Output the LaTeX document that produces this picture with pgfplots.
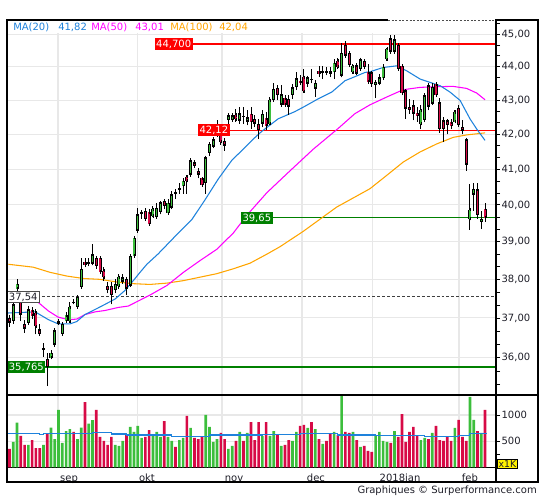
\documentclass[border=0pt]{standalone}
\usepackage{pgfplots}
\pgfplotsset{compat=1.18}
\usepackage{pgfplotstable}
\usepackage{fontspec}
\setmainfont{DejaVu Sans}
\definecolor{cgreen}{RGB}{60,190,60}
\definecolor{cred}{RGB}{215,10,70}
\definecolor{ma20}{RGB}{30,130,220}
\definecolor{ma50}{RGB}{255,0,255}
\definecolor{ma100}{RGB}{255,165,0}
\definecolor{lvlgreen}{RGB}{0,128,0}
\definecolor{gridgray}{RGB}{232,232,232}
\definecolor{txt}{RGB}{30,30,40}

\pgfplotstableread{
i o h l c v
0 37.00 37.08 36.78 36.88 350
1 36.92 37.42 36.85 37.35 484
2 37.75 38.00 37.56 37.88 854
3 37.44 37.54 36.92 37.09 599
4 36.85 36.96 36.63 36.73 427
5 36.87 37.30 36.83 37.22 427
6 37.19 37.28 36.97 37.05 522
7 37.13 37.22 36.58 36.79 369
8 36.71 36.84 36.55 36.58 369
9 36.19 36.36 36.03 36.24 427
10 35.98 36.11 35.30 35.77 650
11 36.00 36.18 35.98 36.13 758
12 36.32 36.75 36.28 36.68 541
13 36.86 36.98 36.84 36.92 1096
14 36.59 36.88 36.57 36.85 465
15 36.92 37.16 36.90 37.07 694
16 36.92 37.40 36.88 37.28 732
17 37.42 37.48 37.35 37.40 675
18 37.28 37.58 37.27 37.55 541
19 37.80 38.58 37.76 38.28 758
20 38.45 38.58 38.32 38.39 1248
21 38.40 38.58 38.34 38.47 834
22 38.41 38.95 38.37 38.67 904
23 38.58 38.63 38.28 38.34 1096
24 38.58 38.63 38.15 38.20 580
25 38.23 38.32 37.97 38.06 503
26 37.84 37.93 37.63 37.71 427
27 37.84 37.93 37.35 37.58 580
28 37.71 38.02 37.63 37.88 427
29 37.84 38.15 37.75 38.06 408
30 37.93 38.15 37.88 38.06 503
31 38.02 38.06 37.58 37.75 618
32 37.84 38.67 37.80 38.63 771
33 38.63 39.15 38.58 39.11 675
34 39.30 39.93 39.25 39.75 790
35 39.78 39.87 39.62 39.80 561
36 39.84 39.93 39.57 39.61 580
37 39.80 39.88 39.43 39.48 713
38 39.70 39.97 39.66 39.88 618
39 39.66 40.06 39.62 39.93 675
40 39.80 40.11 39.75 40.07 580
41 40.12 40.16 39.88 39.97 885
42 39.77 40.15 39.75 40.06 580
43 39.93 40.39 39.88 40.30 503
44 40.35 40.45 40.16 40.30 389
45 40.40 40.60 40.31 40.47 522
46 40.52 40.74 40.31 40.67 561
47 40.79 40.84 40.31 40.67 981
48 40.84 41.31 40.79 41.26 752
49 41.20 41.26 41.02 41.08 561
50 40.96 41.03 40.74 40.84 541
51 40.74 40.79 40.50 40.55 580
52 40.60 41.36 40.31 41.34 1000
53 41.45 41.76 41.36 41.72 771
54 41.64 41.92 41.60 41.85 484
55 41.97 42.40 41.92 42.21 541
56 42.12 42.25 41.69 41.78 656
57 41.81 41.90 41.53 41.67 541
58 42.41 42.61 42.26 42.56 350
59 42.41 42.61 42.36 42.56 408
60 42.56 42.75 42.36 42.43 503
61 42.39 42.80 42.31 42.61 675
62 42.54 42.80 42.31 42.50 503
63 42.37 42.70 42.26 42.50 656
64 42.60 42.80 42.16 42.35 866
65 42.45 42.55 42.20 42.30 522
66 42.30 42.45 41.86 42.11 866
67 42.30 42.70 42.20 42.60 600
68 42.47 42.65 42.11 42.24 866
69 42.30 43.09 42.26 43.00 599
70 43.00 43.50 42.97 43.34 694
71 43.37 43.44 43.00 43.14 618
72 42.86 43.44 42.80 43.17 408
73 43.06 43.14 42.80 42.86 427
74 43.04 43.14 42.57 42.80 522
75 43.14 43.49 43.04 43.39 503
76 43.39 43.84 43.30 43.66 675
77 43.58 43.74 43.44 43.52 790
78 43.69 43.93 43.22 43.26 809
79 43.49 43.72 43.40 43.69 752
80 43.64 43.93 43.50 43.60 866
81 43.34 43.59 43.10 43.52 732
82 43.86 44.03 43.69 43.79 541
83 43.80 44.03 43.63 43.87 446
84 43.86 43.99 43.74 43.82 503
85 43.86 43.99 43.69 43.79 637
86 43.83 44.23 43.63 44.13 675
87 44.18 44.28 43.93 44.00 618
88 43.73 44.73 43.68 44.43 1363
89 44.68 44.78 44.28 44.33 675
90 44.43 44.48 43.98 44.05 656
91 43.83 44.08 43.78 44.01 675
92 44.05 44.13 43.74 43.79 522
93 43.93 44.28 43.88 44.23 389
94 44.18 44.23 43.93 43.98 408
95 43.84 44.08 43.49 43.54 312
96 43.83 43.88 43.40 43.48 293
97 43.45 43.55 43.06 43.55 605
98 43.49 43.79 43.45 43.69 675
99 43.65 44.10 43.60 44.00 503
100 44.23 44.58 44.18 44.55 484
101 44.87 44.98 44.40 44.46 465
102 44.46 44.98 44.40 44.85 694
103 44.68 44.73 43.93 43.93 580
104 44.03 44.08 43.14 43.20 1019
105 43.29 43.34 42.45 42.75 484
106 42.80 43.02 42.60 42.70 675
107 42.85 43.00 42.40 42.60 771
108 42.63 42.80 42.37 42.53 599
109 42.30 42.85 42.15 42.70 522
110 42.40 43.20 42.35 43.14 561
111 43.45 43.50 42.70 42.80 541
112 42.90 43.50 42.88 43.40 656
113 43.47 43.55 43.09 43.14 790
114 42.94 43.07 42.05 42.15 522
115 42.40 42.50 41.78 42.15 503
116 42.40 42.45 42.00 42.26 580
117 42.35 42.45 42.15 42.23 503
118 42.37 42.70 42.35 42.65 752
119 42.77 42.85 42.26 42.26 905
120 42.22 42.40 42.00 42.10 580
121 41.85 41.90 40.95 41.13 503
122 39.62 40.58 39.33 39.87 1344
123 40.28 40.60 39.84 40.45 905
124 40.43 40.60 39.62 39.73 694
125 39.53 39.84 39.36 39.62 656
126 39.90 40.04 39.55 39.65 1096
}\candles

\begin{document}
\begin{tikzpicture}[x=1pt,y=1pt]
\useasboundingbox (0,0) rectangle (408.75,-375);
\begin{axis}[
  at={(5.25pt,-15pt)}, anchor=north west,
  scale only axis, width=366.75pt, height=281.25pt,
  xmin=-0.66, xmax=128.9,
  ymode=log, ymin=35.085, ymax=45.446,
  ytick={36,37,38,39,40,41,42,43,44,45},
  yticklabels={{36,00},{37,00},{38,00},{39,00},{40,00},{41,00},{42,00},{43,00},{44,00},{45,00}},
  minor ytick={35.333,35.667,36.333,36.667,37.333,37.667,38.333,38.667,39.333,39.667,40.333,40.667,41.333,41.667,42.333,42.667,43.333,43.667,44.333,44.667,45.333},
  ytick pos=right, yticklabel pos=right,
  tick align=outside, major tick length=3pt, minor tick length=3pt,
  ytick style={black, line width=0.6pt},
  yticklabel style={font=\fontsize{7.5}{8}\selectfont, text=txt, anchor=west, inner sep=1pt},
  xtick={12.85,33.8,56.3,77.5,96.1,119.1}, xticklabels={},
  xtick style={draw=none},
  xmajorgrids, ymajorgrids,
  major grid style={gridgray, line width=0.8pt},
  axis line style={black, line width=0.9pt},
]
% level lines
\addplot[red, line width=1.8pt] coordinates {(48.62,44.7) (128.9,44.7)};
\addplot[red, line width=0.8pt] coordinates {(58.43,42.12) (128.9,42.12)};
\addplot[lvlgreen, line width=0.8pt] coordinates {(69.82,39.65) (128.9,39.65)};
\addplot[black!75, line width=0.7pt, dash pattern=on 2.2pt off 1.5pt] coordinates {(7.29,37.54) (128.9,37.54)};
\addplot[lvlgreen, line width=1.8pt] coordinates {(8.88,35.765) (128.9,35.765)};
% moving averages
\addplot[ma100, line width=0.8pt] coordinates {
(-0.3,38.40) (6.3,38.32) (10.7,38.19) (15.2,38.09) (19.6,38.02) (24.0,38.00) (28.4,37.93) (32.8,37.89) (37.2,37.87) (41.7,37.90) (46.1,37.97) (50.5,38.06) (54.9,38.15) (59.3,38.28) (63.7,38.43) (68.2,38.67) (71.7,38.87) (77.8,39.28) (86.7,39.95) (95.5,40.45) (99.9,40.82) (104.3,41.20) (108.8,41.49) (113.2,41.72) (117.6,41.91) (121.1,41.98) (126.0,42.04)};
\addplot[ma50, line width=0.8pt] coordinates {
(7.4,37.42) (10.3,37.18) (12.9,37.02) (15.6,36.96) (17.8,36.97) (20.0,37.09) (22.7,37.16) (25.3,37.19) (28.8,37.27) (31.5,37.31) (34.6,37.46) (37.2,37.59) (41.7,37.84) (46.1,38.19) (50.5,38.50) (54.9,38.80) (59.3,39.24) (62.9,39.72) (68.2,40.34) (74.3,40.95) (80.5,41.57) (87.1,42.17) (91.5,42.60) (95.5,42.86) (99.9,43.09) (104.3,43.31) (108.8,43.38) (113.2,43.40) (117.5,43.41) (121.1,43.35) (123.8,43.21) (126.0,43.01)};
\addplot[ma20, line width=0.8pt] coordinates {
(-0.4,37.13) (6.8,37.16) (10.3,36.96) (12.9,36.85) (16.0,36.85) (17.8,36.91) (20.0,37.09) (22.7,37.22) (25.3,37.35) (28.0,37.49) (30.6,37.71) (32.8,37.97) (34.6,38.19) (36.4,38.40) (39.4,38.68) (43.9,39.15) (48.3,39.60) (51.8,40.14) (55.3,40.72) (58.9,41.25) (62.4,41.62) (65.0,41.90) (66.8,42.08) (71.2,42.45) (75.6,42.66) (78.3,42.82) (81.8,43.04) (85.4,43.24) (88.9,43.58) (91.5,43.70) (94.2,43.83) (95.5,43.85) (99.0,43.98) (102.6,44.03) (105.2,43.88) (108.8,43.63) (111.4,43.53) (114.1,43.43) (116.7,43.24) (119.4,42.99) (122.0,42.45) (123.8,42.15) (126.0,41.82)};
% wicks
\addplot[forget plot, draw=none, mark=none, error bars/.cd, y dir=plus, y explicit, error mark=none,
  error bar style={draw=black, line width=0.7pt}]
  table[x=i, y=l, y error plus expr={\thisrow{h}-\thisrow{l}}] {\candles};
% body outlines
\addplot[forget plot, draw=none, mark=none, error bars/.cd, y dir=both, y explicit, error mark=none,
  error bar style={draw=black, line width=2.3pt}]
  table[x=i, y expr={(\thisrow{o}+\thisrow{c})/2}, y error expr={abs(\thisrow{c}-\thisrow{o})/2}] {\candles};
% green bodies
\addplot[forget plot, draw=none, mark=none, x filter/.expression={\thisrow{c}>=\thisrow{o} ? x : nan},
  error bars/.cd, y dir=both, y explicit, error mark=-,
  error mark options={black, line width=0.5pt, mark size=1.15pt},
  error bar style={draw=cgreen, line width=1.0pt}]
  table[x=i, y expr={(\thisrow{o}+\thisrow{c})/2}, y error expr={abs(\thisrow{c}-\thisrow{o})/2}] {\candles};
% red bodies
\addplot[forget plot, draw=none, mark=none, x filter/.expression={\thisrow{c}<\thisrow{o} ? x : nan},
  error bars/.cd, y dir=both, y explicit, error mark=-,
  error mark options={black, line width=0.5pt, mark size=1.15pt},
  error bar style={draw=cred, line width=1.0pt}]
  table[x=i, y expr={(\thisrow{o}+\thisrow{c})/2}, y error expr={abs(\thisrow{c}-\thisrow{o})/2}] {\candles};
% level labels
\node[fill=red, text=white, anchor=east, inner xsep=1.2pt, minimum height=9pt, inner ysep=0pt, font=\fontsize{7.5}{8}\selectfont] at (axis cs:48.62,44.7) {44,700};
\node[fill=red, text=white, anchor=east, inner xsep=1.2pt, minimum height=9.5pt, inner ysep=0pt, font=\fontsize{7.5}{8}\selectfont] at (axis cs:58.43,42.12) {42,12};
\node[fill=lvlgreen, text=white, anchor=east, inner xsep=1.2pt, minimum height=9.5pt, inner ysep=0pt, font=\fontsize{7.5}{8}\selectfont] at (axis cs:69.82,39.65) {39,65};
\node[fill=white, draw=black!70, text=txt, anchor=west, inner xsep=1.2pt, minimum height=8.5pt, inner ysep=0pt, line width=0.5pt, font=\fontsize{7.5}{8}\selectfont] at (axis cs:-0.66,37.54) {37,54};
\node[fill=lvlgreen, text=white, anchor=west, inner xsep=1.2pt, minimum height=9pt, inner ysep=0pt, font=\fontsize{7.5}{8}\selectfont] at (axis cs:-0.66,35.765) {35,765};
\end{axis}

\begin{axis}[
  at={(5.25pt,-296.25pt)}, anchor=north west,
  scale only axis, width=366.75pt, height=54.225pt,
  xmin=-0.66, xmax=128.9, ymin=0, ymax=1382,
  ytick={500,1000}, yticklabels={500,1000}, minor ytick={250},
  ytick pos=right, yticklabel pos=right,
  tick align=outside, major tick length=3pt, minor tick length=3pt,
  ytick style={black, line width=0.6pt},
  yticklabel style={font=\fontsize{7.5}{8}\selectfont, text=txt, anchor=west, inner sep=1pt},
  xtick={12.85,33.8,56.3,77.5,96.1,119.1}, xticklabels={},
  extra x ticks={15.77,36.43,59.49,81.2,103.47,122.0},
  extra x tick labels={sep,okt,nov,dec,2018jan,feb},
  extra x tick style={grid=none, xticklabel style={anchor=base, yshift=-7.3pt, font=\fontsize{7.5}{8}\selectfont, text=txt}},
  xtick style={draw=none},
  xmajorgrids, ymajorgrids,
  major grid style={gridgray, line width=0.8pt},
  axis line style={black, line width=0.9pt},
]
\addplot[ybar, bar width=2pt, bar shift=0pt, fill=cgreen, draw=none, x filter/.expression={\thisrow{c}>=\thisrow{o} ? x : nan}] table[x=i, y=v] {\candles};
\addplot[ybar, bar width=2pt, bar shift=0pt, fill=cred, draw=none, x filter/.expression={\thisrow{c}<\thisrow{o} ? x : nan}] table[x=i, y=v] {\candles};
\addplot[ma20, line width=0.8pt, const plot] coordinates {
(-0.5,650) (8,631) (9,650) (22,669) (27,637) (31,618) (43,586) (53,618) (67,630) (77,640) (87,618) (97,605) (104,615) (110,590) (119,610) (122,650) (126.5,650)};
\end{axis}

% frame
\draw[line width=0.9pt] (5.25,-15) rectangle (403.5,-361.5);
\draw[line width=0.9pt] (5.25,-296.25) -- (403.5,-296.25);
\draw[line width=0.9pt] (372,-15) -- (372,-361.5);
% top white band and dashed top line
\fill[white] (5.8,-15.5) rectangle (371.5,-25.1);
\draw[white, line width=1.2pt] (291,-15) -- (371.5,-15);
\draw[black!70, line width=0.7pt, dash pattern=on 1.5pt off 1.2pt] (291,-15.2) -- (371.5,-15.2);
% MA legend
\begin{scope}[every node/.style={anchor=west, inner sep=0pt, font=\fontsize{7.5}{8}\selectfont}]
\node[text=ma20] at (9.75,-20.25) {MA(20)};
\node[text=ma20] at (43.5,-20.25) {41,82};
\node[text=ma50] at (68.25,-20.25) {MA(50)};
\node[text=ma50] at (101.25,-20.25) {43,01};
\node[text=ma100] at (127.5,-20.25) {MA(100)};
\node[text=ma100] at (164.25,-20.25) {42,04};
\end{scope}
% x1K box
\node[fill=yellow, draw=black, line width=0.4pt, inner sep=0.8pt, font=\fontsize{7}{8}\selectfont, text=txt] at (380.6,-348) {x1K};
% credit
\node[anchor=east, inner sep=0pt, font=\fontsize{7.5}{8}\selectfont, text=txt] at (402.75,-368.25) {Graphiques © Surperformance.com};
\end{tikzpicture}
\end{document}
